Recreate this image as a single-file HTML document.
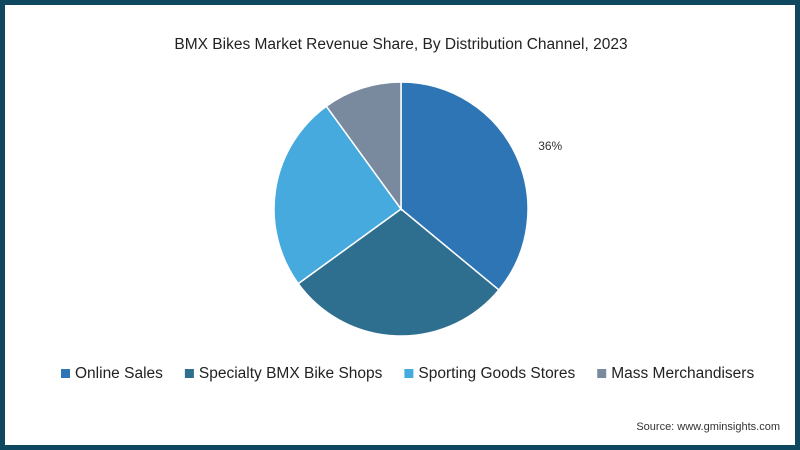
<!DOCTYPE html>
<html><head><meta charset="utf-8"><style>
html,body{margin:0;padding:0;}
body{width:800px;height:450px;overflow:hidden;font-family:"Liberation Sans",sans-serif;}
#frame{position:absolute;left:0;top:0;width:790px;height:440px;border:5px solid #0f4660;background:#fff;}
</style></head><body>
<div id="frame">
<svg id="chart" width="790" height="440">
<text x="396" y="44" text-anchor="middle" font-size="15.5" fill="#222">BMX Bikes Market Revenue Share, By Distribution Channel, 2023</text>
<g id="slices"></g>
<g id="legend"></g>
<text x="775" y="425" text-anchor="end" font-size="11" fill="#333">Source: www.gminsights.com</text>
</svg>
</div>
<script>
const categories=["Online Sales","Specialty BMX Bike Shops","Sporting Goods Stores","Mass Merchandisers"];
const values=[36,29,25,10];
const labels=["36%","","",""];
const colors=["#2e75b6","#2e6e8e","#46aade","#7a8a9e"];
const NS="http://www.w3.org/2000/svg";
const cx=396,cy=204,r=127;
const total=values.reduce((a,b)=>a+b,0);
const g=document.getElementById('slices');
let a0=0;
function pt(a,rr){return [cx+rr*Math.sin(a),cy-rr*Math.cos(a)];}
values.forEach((v,i)=>{
  const a1=a0+v/total*2*Math.PI;
  const p0=pt(a0,r),p1=pt(a1,r);
  const large=(a1-a0)>Math.PI?1:0;
  const p=document.createElementNS(NS,'path');
  p.setAttribute('d',`M${cx},${cy}L${p0[0]},${p0[1]}A${r},${r} 0 ${large} 1 ${p1[0]},${p1[1]}Z`);
  p.setAttribute('fill',colors[i]);p.setAttribute('stroke','#fff');p.setAttribute('stroke-width','1.5');
  
  
  g.appendChild(p);
  if(labels[i]){
    const m=(a0+a1)/2;const lp=pt(m+0.04,r+35);
    const t=document.createElementNS(NS,'text');
    t.setAttribute('x',lp[0]);t.setAttribute('y',lp[1]+4);t.setAttribute('font-size','12');t.setAttribute('fill','#333');t.setAttribute('text-anchor','middle');
    t.textContent=labels[i];
    
    
    g.appendChild(t);
  }
  a0=a1;
});
const lg=document.getElementById('legend');
let x=56;const ly=373;
categories.forEach((c,i)=>{
  const s=document.createElementNS(NS,'rect');
  s.setAttribute('x',x);s.setAttribute('y',ly-9);s.setAttribute('width',9);s.setAttribute('height',9);s.setAttribute('fill',colors[i]);
  
  
  lg.appendChild(s);
  const t=document.createElementNS(NS,'text');
  t.setAttribute('x',x+14);t.setAttribute('y',ly);t.setAttribute('font-size','15.5');t.setAttribute('fill','#222');
  t.textContent=c;
  
  
  lg.appendChild(t);
  x+=14+t.getComputedTextLength()+22;
});
</script>
</body></html>
